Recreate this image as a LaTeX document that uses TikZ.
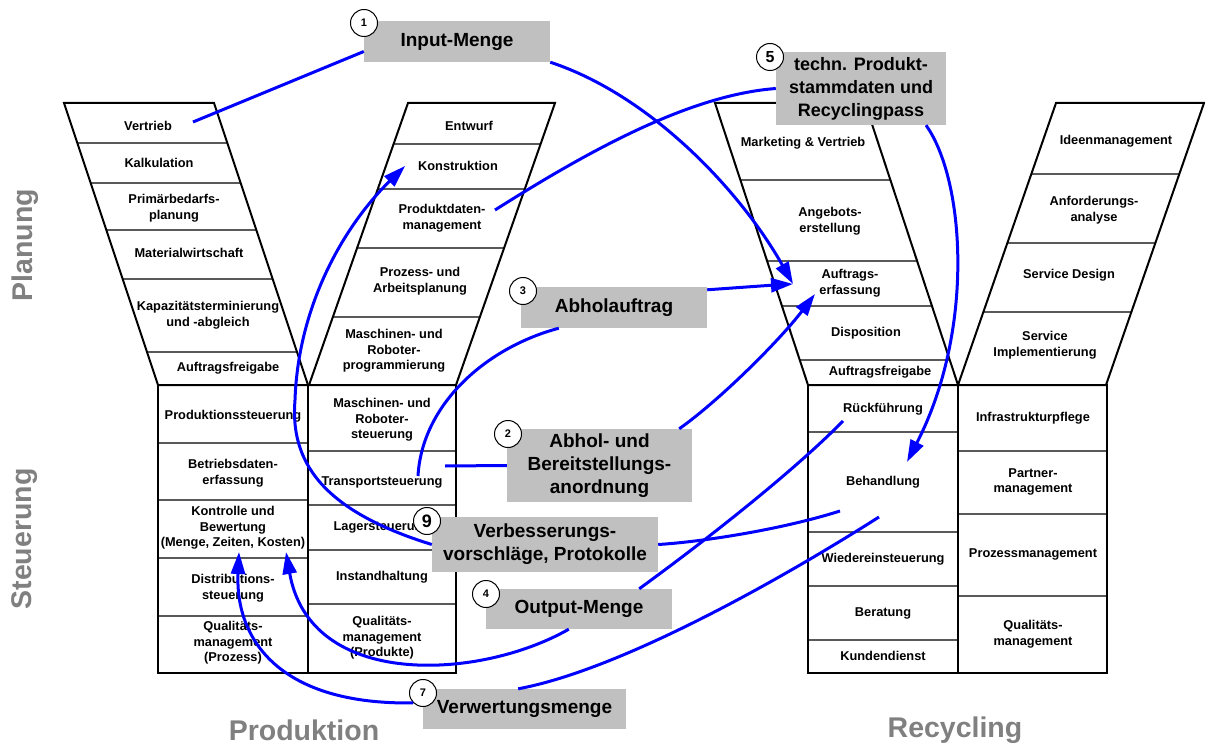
\documentclass[tikz,border=0pt]{standalone}
\usepackage{fontspec}
\setmainfont{Liberation Sans}
\usetikzlibrary{arrows.meta,calc}

\definecolor{flowblue}{RGB}{0,0,255}
\definecolor{boxgray}{RGB}{192,192,192}
\definecolor{headgray}{RGB}{128,128,128}

\tikzset{
  cell/.style={align=center,inner sep=0pt,font=\bfseries\fontsize{12.8}{15.5}\selectfont},
  tag/.style={fill=boxgray,align=center,inner sep=0pt,font=\bfseries\fontsize{19}{23}\selectfont},
  num/.style={circle,draw,fill=white,line width=1pt,minimum size=27pt,inner sep=0pt,font=\bfseries\fontsize{11}{11}\selectfont},
  heading/.style={text=headgray,font=\bfseries\fontsize{28.5}{30}\selectfont},
  outline/.style={line width=2pt,line join=miter},
  divider/.style={line width=1.5pt,draw=black!65},
  flowline/.style={draw=flowblue,line width=3pt},
  flow/.style={flowline,-{Triangle[length=22pt,width=14pt]}},
}

\begin{document}
\begin{tikzpicture}[x=1pt,y=-1pt]
\useasboundingbox (0,0) rectangle (1205,746);

% planning funnels
\foreach \y in {143,183,230,279,352}
  \draw[divider] ({64+(\y-103)/3},\y) -- ({214+(\y-103)/3},\y);
\foreach \y in {144,189,248,317}
  \draw[divider] ({408-(\y-103)*0.351},\y) -- ({555-(\y-103)*0.351},\y);
\foreach \y in {180,261,306,360}
  \draw[divider] ({715+(\y-103)*0.33},\y) -- ({865+(\y-103)*0.33},\y);
\foreach \y in {174,243,312}
  \draw[divider] ({1056-(\y-103)*0.3475},\y) -- ({1204-(\y-103)*0.3475},\y);
\draw[outline] (64,103) -- (214,103) -- (308,385) -- (158,385) -- cycle;
\draw[outline] (408,103) -- (555,103) -- (456,385) -- (309,385) -- cycle;
\draw[outline] (715,103) -- (865,103) -- (958,385) -- (808,385) -- cycle;
\draw[outline] (1056,103) -- (1204,103) -- (1106,385) -- (958,385) -- cycle;

% control columns
\foreach \y in {443,500,558,616} \draw[divider] (158,\y) -- (308,\y);
\foreach \y in {451,505,550,604} \draw[divider] (308,\y) -- (456,\y);
\foreach \y in {432,532,586,640} \draw[divider] (808,\y) -- (958,\y);
\foreach \y in {451,514,596} \draw[divider] (958,\y) -- (1107,\y);
\draw[outline] (158,385) rectangle (456,673);
\draw[outline] (308,385) -- (308,673);
\draw[outline] (808,385) rectangle (1107,673);
\draw[outline] (958,385) -- (958,673);

% Produktion: Planung
\node[cell] (vertrieb) at (148,126) {Vertrieb};
\node[cell] (kalkulation) at (159,163) {Kalkulation};
\node[cell] (primaer) at (174,208) {Primärbedarfs-\\planung};
\node[cell] (material) at (189,253) {Materialwirtschaft};
\node[cell] (kapazitaet) at (208,315) {Kapazitätsterminierung\\und -abgleich};
\node[cell] (freigabeP) at (228,368) {Auftragsfreigabe};
\node[cell] (entwurf) at (469,126) {Entwurf};
\node[cell] (konstruktion) at (458,166) {Konstruktion};
\node[cell] (pdm) at (442,218) {Produktdaten-\\management};
\node[cell] (prozessP) at (420,281) {Prozess- und\\Arbeitsplanung};
\node[cell] (maschinenP) at (394,351) {Maschinen- und\\Roboter-\\programmierung};

% Produktion: Steuerung
\node[cell] (prodSteuerung) at (233,416) {Produktionssteuerung};
\node[cell] (bde) at (233,473) {Betriebsdaten-\\erfassung};
\node[cell] (kontrolle) at (233,528) {Kontrolle und\\Bewertung\\(Menge, Zeiten, Kosten)};
\node[cell] (distribution) at (233,588) {Distributions-\\steuerung};
\node[cell] (qualiProzess) at (233,643) {Qualitäts-\\management\\(Prozess)};
\node[cell] (maschinenS) at (382,420) {Maschinen- und\\Roboter-\\steuerung};
\node[cell] (transport) at (382,482) {Transportsteuerung};
\node[cell] (lager) at (382,527) {Lagersteuerung};
\node[cell] (instand) at (382,577) {Instandhaltung};
\node[cell] (qualiProdukte) at (382,638) {Qualitäts-\\management\\(Produkte)};

% Recycling: Planung
\node[cell] (marketing) at (803,143) {Marketing \& Vertrieb};
\node[cell] (angebot) at (830,221) {Angebots-\\erstellung};
\node[cell] (erfassung) at (850,283) {Auftrags-\\erfassung};
\node[cell] (disposition) at (866,333) {Disposition};
\node[cell] (freigabeR) at (880,372) {Auftragsfreigabe};
\node[cell] (ideen) at (1116,141) {Ideenmanagement};
\node[cell] (anforderung) at (1094,210) {Anforderungs-\\analyse};
\node[cell] (serviceDesign) at (1069,275) {Service Design};
\node[cell] (serviceImpl) at (1045,345) {Service\\Implementierung};

% Recycling: Steuerung
\node[cell] (rueck) at (883,409) {Rückführung};
\node[cell] (behandlung) at (883,482) {Behandlung};
\node[cell] (wieder) at (883,559) {Wiedereinsteuerung};
\node[cell] (beratung) at (883,613) {Beratung};
\node[cell] (kunden) at (883,656) {Kundendienst};
\node[cell] (infra) at (1033,418) {Infrastrukturpflege};
\node[cell] (partner) at (1033,482) {Partner-\\management};
\node[cell] (prozessM) at (1033,554) {Prozessmanagement};
\node[cell] (qualiR) at (1033,634) {Qualitäts-\\management};

% headings
\node[heading,rotate=90] (planung) at (25,245) {Planung};
\node[heading,rotate=90] (steuerung) at (25,539) {Steuerung};
\node[heading] (produktion) at (304,730) {Produktion};
\node[heading] (recycling) at (955,730) {Recycling};

% flow labels
\node[tag,minimum width=186pt,minimum height=41pt] (inputMenge) at (457,41.5) {Input-Menge};
\node[tag,minimum width=170pt,minimum height=73pt,font=\bfseries\fontsize{18}{23}\selectfont] (stammdaten) at (861,88.5) {techn. Produkt-\\stammdaten und\\Recyclingpass};
\node[tag,minimum width=186pt,minimum height=41pt] (abholauftrag) at (614,307.5) {Abholauftrag};
\node[tag,minimum width=185pt,minimum height=73pt] (anordnung) at (599.5,465.5) {Abhol- und\\Bereitstellungs-\\anordnung};
\node[tag,minimum width=226pt,minimum height=55pt] (vorschlaege) at (545,544.5) {Verbesserungs-\\vorschläge, Protokolle};
\node[tag,minimum width=186pt,minimum height=40pt] (outputMenge) at (579,609) {Output-Menge};
\node[tag,minimum width=203pt,minimum height=40pt] (verwertung) at (524.5,709) {Verwertungsmenge};

% connector ends
\coordinate (vertriebOut) at (193,122);
\coordinate (erfassungIn) at (793,284);
\coordinate (erfassungIn2) at (815,294);
\coordinate (pdmOut) at (495,210);
\coordinate (behandlungIn) at (907,462);
\coordinate (transportUp) at (418,476);
\coordinate (transportRight) at (445,466);
\coordinate (rueckOut) at (843,421);
\coordinate (kontrolleIn2) at (286,552);
\coordinate (behandlungOut2) at (879,517);
\coordinate (kontrolleIn) at (239,552);
\coordinate (behandlungOut) at (840,511);
\coordinate (konstruktionIn) at (405,166);

% flows
\draw[flowline] (vertriebOut) -- ([yshift=-10pt]inputMenge.west);
\draw[flow] (inputMenge.south east) .. controls (650,95) and (740,190) .. (erfassungIn);
\draw[flowline] (transportRight) -- (anordnung.west);
\draw[flow] ([xshift=-13pt]anordnung.north east) .. controls (720,400) and (780,340) .. (erfassungIn2);
\draw[flowline] (transportUp) .. controls (422,405) and (485,348) .. ([xshift=38pt]abholauftrag.south west);
\draw[flow] ([yshift=-3pt]abholauftrag.north east) .. controls (740,287) .. (erfassungIn);
\draw[flowline] (rueckOut) .. controls (800,465) and (720,530) .. ([xshift=-33pt]outputMenge.north east);
\draw[flow] ([xshift=83pt]outputMenge.south west) .. controls (480,680) and (310,690) .. (kontrolleIn2);
\draw[flowline] (pdmOut) .. controls (590,150) and (690,95) .. (stammdaten.west);
\draw[flow] ([xshift=65pt]stammdaten.south) .. controls (965,180) and (975,330) .. (behandlungIn);
\draw[flowline] (behandlungOut2) .. controls (780,580) and (620,670) .. ([xshift=-108pt]verwertung.north east);
\draw[flowline] (behandlungOut) .. controls (780,530) and (700,542) .. (vorschlaege.east);
\draw[flow] (vorschlaege.west) .. controls (320,510) and (290,460) .. (295,400)
  .. controls (298,310) and (340,230) .. (konstruktionIn);

% numbers
\node[num] (c1) at (364,23) {1};
\node[num,font=\bfseries\fontsize{16}{16}\selectfont] (c5) at (770,57) {5};
\node[num] (c3) at (523,291) {3};
\node[num] (c2) at (508,434) {2};
\node[num,font=\bfseries\fontsize{18}{18}\selectfont] (c9) at (427,521) {9};
\node[num] (c4) at (486,594) {4};
\node[num] (c7) at (423,693) {7};
\draw[flow] (c7.south west) .. controls (280,705) and (235,640) .. (kontrolleIn);
\end{tikzpicture}
\end{document}
